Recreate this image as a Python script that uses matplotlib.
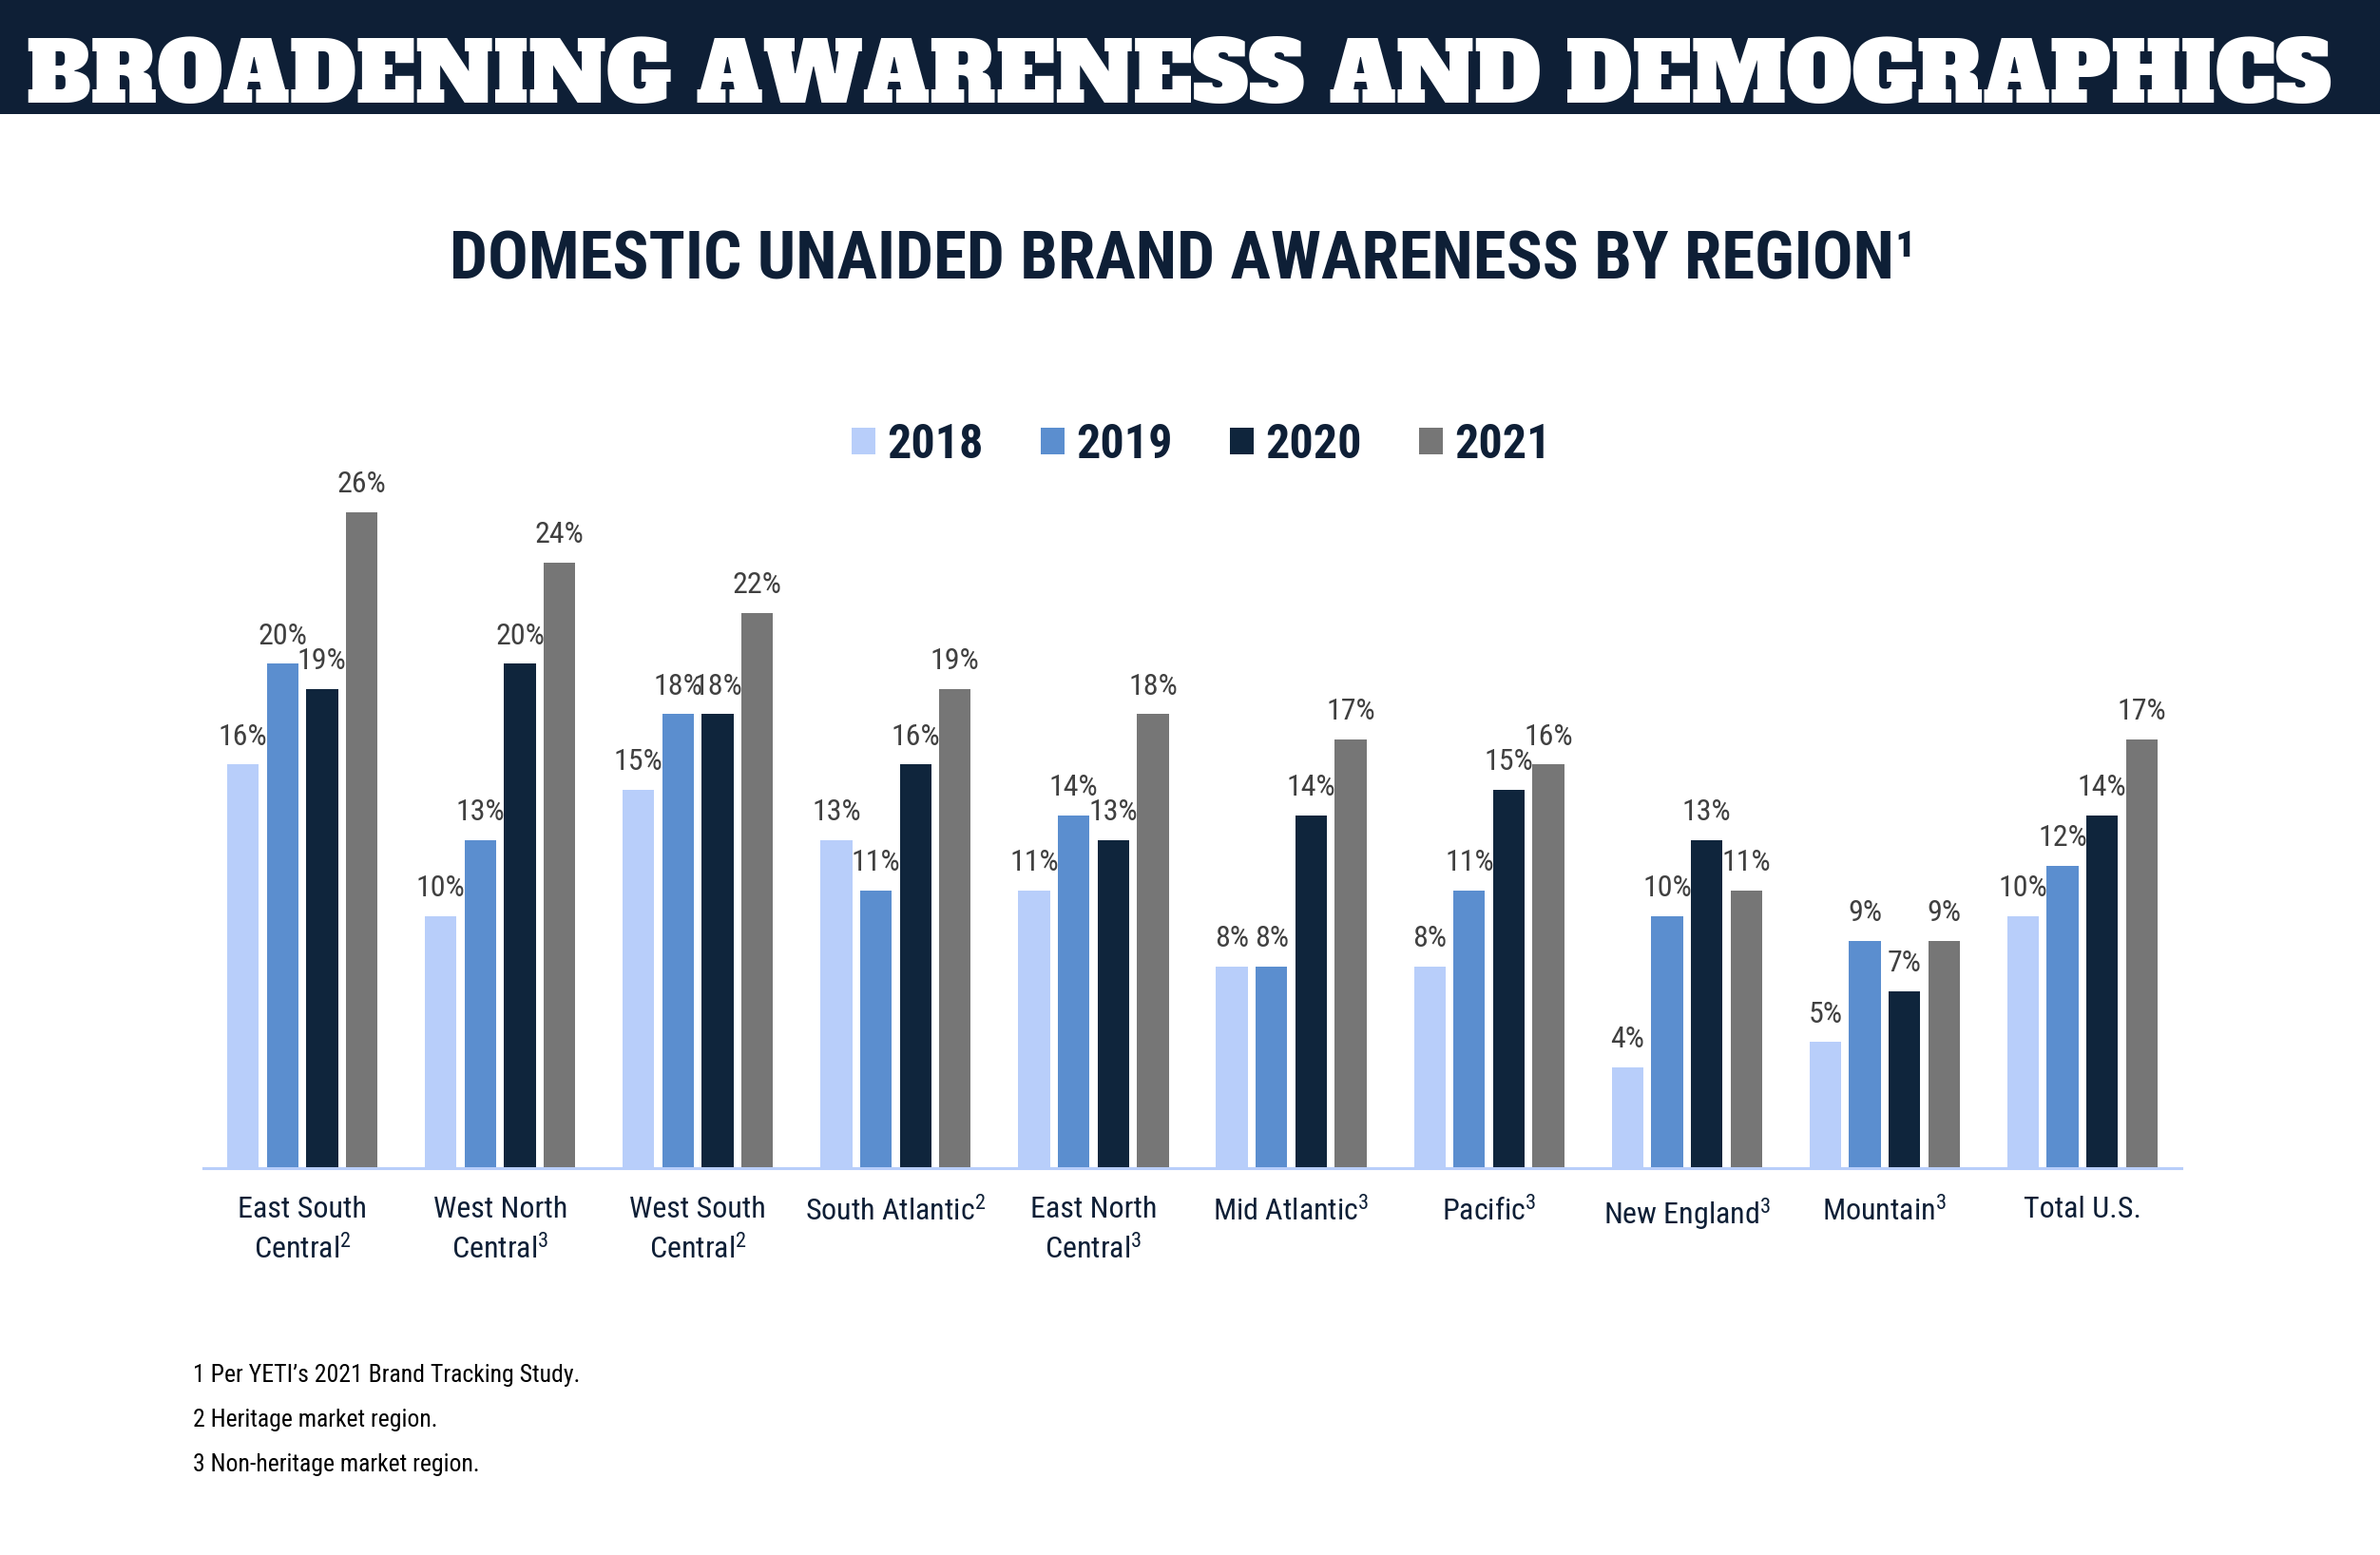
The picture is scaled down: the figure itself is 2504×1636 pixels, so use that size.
import matplotlib
matplotlib.use('Agg')
import matplotlib.pyplot as plt
import numpy as np

regions = ['East South\nCentral$^{2}$', 'West North\nCentral$^{3}$', 'West South\nCentral$^{2}$',
           'South Atlantic$^{2}$', 'East North\nCentral$^{3}$', 'Mid Atlantic$^{3}$',
           'Pacific$^{3}$', 'New England$^{3}$', 'Mountain$^{3}$', 'Total U.S.']
years = ['2018', '2019', '2020', '2021']
aw_2018 = [16, 10, 15, 13, 11, 8, 8, 4, 5, 10]
aw_2019 = [20, 13, 18, 11, 14, 8, 11, 10, 9, 12]
aw_2020 = [19, 20, 18, 16, 13, 14, 15, 13, 7, 14]
aw_2021 = [26, 24, 22, 19, 18, 17, 16, 11, 9, 17]
footnotes = ["1 Per YETI\u2019s 2021 Brand Tracking Study.",
             "2 Heritage market region.",
             "3 Non-heritage market region."]

colores = ['#B8CEFA', '#5B8ECF', '#0F253C', '#767676']
navy = '#0E1F36'
narrow = ['Roboto Condensed', 'Archivo Narrow', 'DejaVu Sans']

# superindices con la misma fuente condensada
plt.rcParams['mathtext.fontset'] = 'custom'
plt.rcParams['mathtext.rm'] = 'Roboto Condensed'
plt.rcParams['mathtext.it'] = 'Roboto Condensed:italic'
plt.rcParams['mathtext.bf'] = 'Roboto Condensed:bold'

W, H = 2504, 1636
fig = plt.figure(figsize=(W / 100, H / 100), dpi=100)

# banda superior con el titulo
fig.patches.append(plt.Rectangle((0, 1 - 120 / H), 1, 120 / H, transform=fig.transFigure,
                                 facecolor=navy, edgecolor='none', zorder=0))
fig.text(1240 / W, 1 - 108 / H, 'BROADENING AWARENESS AND DEMOGRAPHICS', ha='center',
         va='baseline', fontsize=62.8, family=['Alfa Slab One', 'DejaVu Serif'], color='white')

fig.text(1245 / W, 1 - 294 / H, 'DOMESTIC UNAIDED BRAND AWARENESS BY REGION\u00b9', ha='center',
         va='baseline', fontsize=51, fontweight='bold', family=narrow, color=navy)

ax = fig.add_axes([214 / W, 1 - 1229 / H, 2081 / W, 796 / H])
x = np.arange(len(regions))
series = [aw_2018, aw_2019, aw_2020, aw_2021]
barras = []
for i, (yr, vals) in enumerate(zip(years, series)):
    b = ax.bar(x + (i - 1.5) * 0.2, vals, width=0.16, color=colores[i], label=yr, zorder=2)
    barras.append(b)
    for xi, v in zip(x + (i - 1.5) * 0.2, vals):
        ax.annotate(f'{v}%', (xi, v), xytext=(0, 15), textcoords='offset points',
                    ha='center', va='baseline', fontsize=23, family=narrow, color='#404040')

ax.set_xlim(-0.5, len(regions) - 0.5)
ax.set_ylim(0, 30)
for s in ['top', 'right', 'left']:
    ax.spines[s].set_visible(False)
ax.spines['bottom'].set_color('#B8CEFA')
ax.spines['bottom'].set_linewidth(2.2)
ax.set_yticks([])
ax.set_xticks(x)
ax.set_xticklabels(regions, fontsize=23, family=narrow, color=navy, linespacing=1.4)
ax.tick_params(axis='x', length=0, pad=21)

fig.legend(barras, years, loc='center', bbox_to_anchor=(1264 / W, 1 - 468 / H), ncol=4,
           frameon=False, handlelength=0.5, handleheight=0.5, handletextpad=0.25,
           columnspacing=1.2, prop={'family': narrow, 'weight': 'bold', 'size': 36},
           labelcolor=navy)

for k, t in enumerate(footnotes):
    fig.text(203 / W, 1 - (1454 + 47 * k) / H, t, ha='left', va='baseline', fontsize=18.5,
             family=narrow, color='black')

plt.savefig('out.png', dpi=100)
